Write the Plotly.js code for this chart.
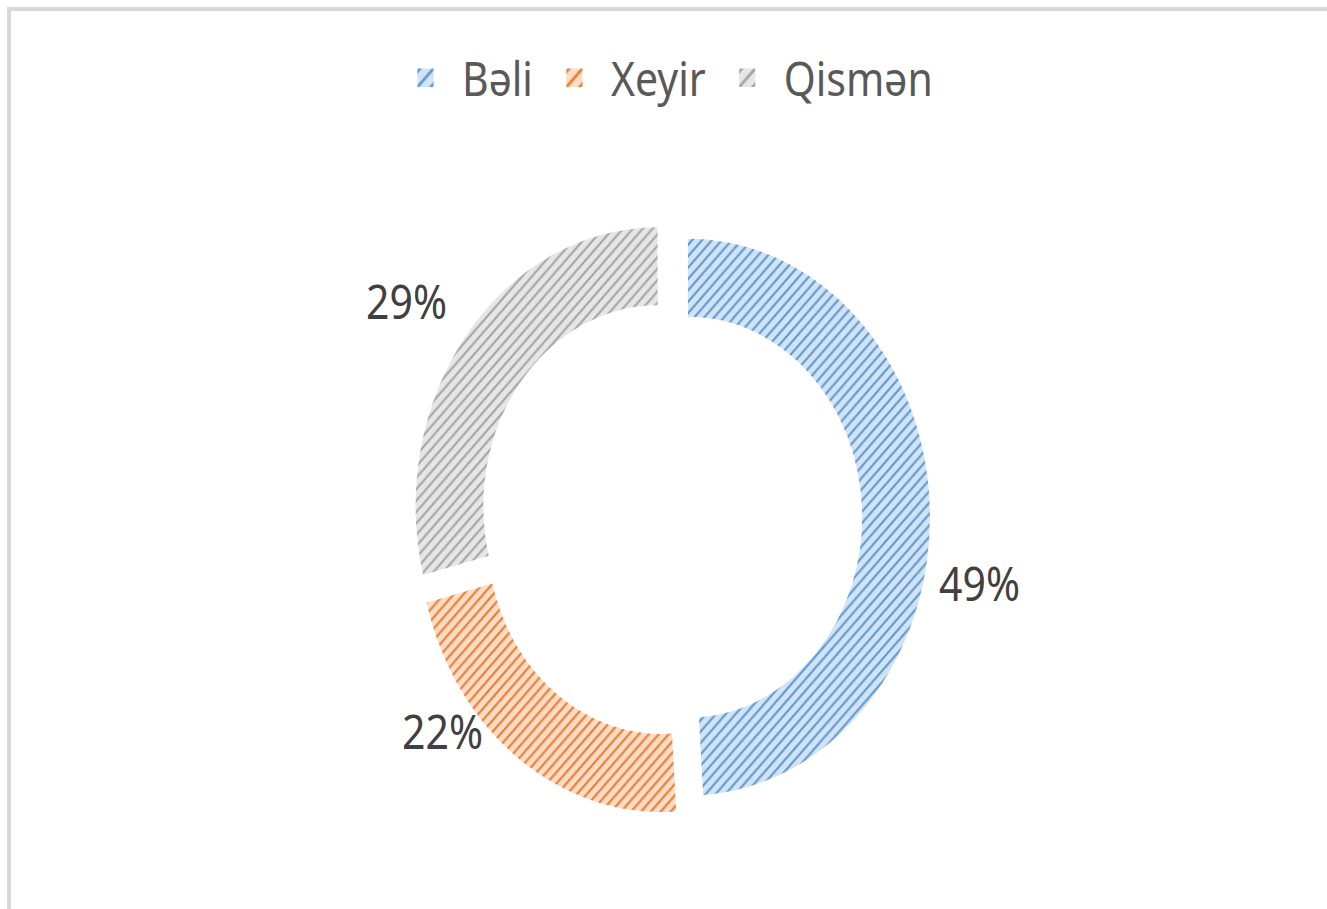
<!DOCTYPE html>
<html>
<head>
<meta charset="utf-8">
<script src="https://cdn.plot.ly/plotly-3.0.1.min.js"></script>
<style>
  html, body { margin: 0; padding: 0; background: #ffffff; overflow: hidden; }
  #frame { position: absolute; left: 7px; top: 7px; width: 1340px; height: 920px;
           border-top: 4px solid #d9d9d9; border-left: 4px solid #d9d9d9; box-sizing: border-box; }
  #chart { position: absolute; left: 0; top: 0; width: 1327px; height: 790px;
           transform: scaleY(1.1506); transform-origin: 0 0; }
</style>
</head>
<body>
<div id="frame"></div>
<div id="chart"></div>
<script>
// ---- data ----
const categories = ["Bəli", "Xeyir", "Qismən"];
const values = [49, 22, 29];
const percentLabels = ["49%", "22%", "29%"];

// ---- styles ----
const fgColors = ["#5b9bd5", "#ed7d31", "#a5a5a5"];
const bgColors = ["#d3e3f4", "#fbdcc6", "#e6e6e6"];
const labelPos = [
  {x: 0.7385, y: 0.3595},
  {x: 0.3338, y: 0.196},
  {x: 0.3067, y: 0.6696}
];

const trace = {
  type: "pie",
  labels: categories,
  values: values,
  hole: 0.72,
  sort: false,
  direction: "clockwise",
  rotation: 0,
  pull: [0.07, 0.07, 0.07],
  textinfo: "none",
  hoverinfo: "label+percent",
  domain: {x: [0.3105, 0.7008], y: [0.1026, 0.7582]},
  marker: {
    colors: bgColors,
    line: {width: 0},
    pattern: {
      shape: "/",
      fgcolor: fgColors,
      bgcolor: bgColors,
      size: 7,
      solidity: 0.28,
      fillmode: "replace"
    }
  }
};

const annotations = percentLabels.map((t, i) => ({
  text: t,
  xref: "paper", yref: "paper",
  x: labelPos[i].x, y: labelPos[i].y,
  xanchor: "center", yanchor: "middle",
  showarrow: false,
  font: {family: "Noto Sans", size: 41, color: "#404040"}
}));

const layout = {
  width: 1327,
  height: 790,
  margin: {l: 0, r: 0, t: 0, b: 0},
  paper_bgcolor: "rgba(0,0,0,0)",
  plot_bgcolor: "rgba(0,0,0,0)",
  showlegend: true,
  legend: {
    orientation: "h",
    x: 0.5, xanchor: "center",
    y: 0.914, yanchor: "middle",
    font: {family: "Noto Sans", size: 41, color: "#595959"},
    itemwidth: 63,
    itemclick: false,
    traceorder: "normal"
  },
  annotations: annotations
};

Plotly.newPlot("chart", [trace], layout, {displayModeBar: false, staticPlot: true}).then(gd => {
  gd.querySelectorAll(".legend .legendpoints path").forEach(p => {
    const t = p.getAttribute("transform") || "";
    p.setAttribute("transform", t + " scale(1.35)");
  });
});
</script>
</body>
</html>
